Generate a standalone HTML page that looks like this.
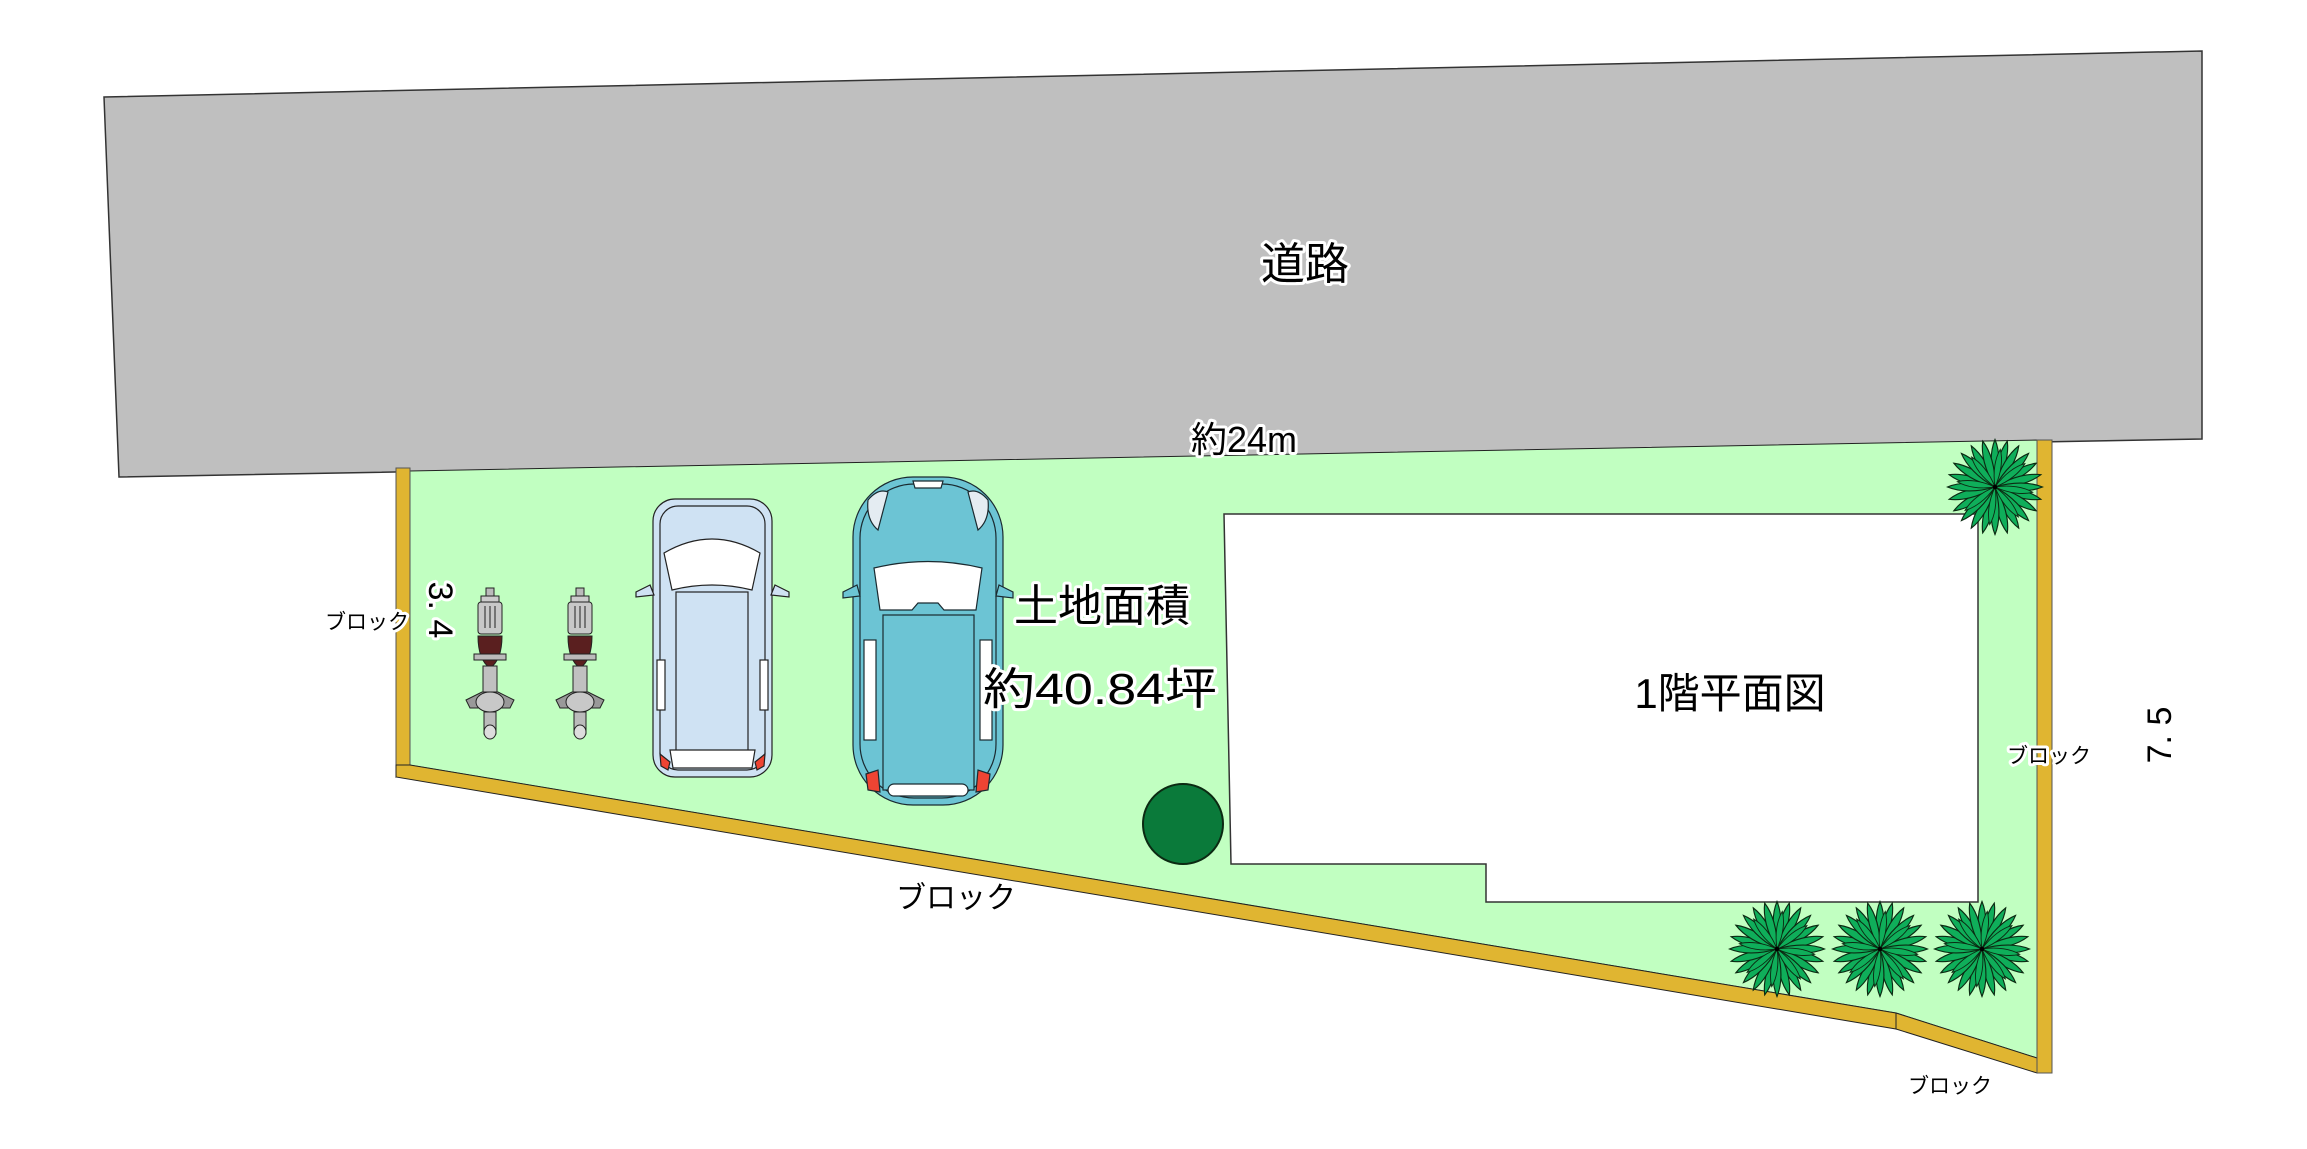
<!DOCTYPE html>
<html><head><meta charset="utf-8"><style>
html,body{margin:0;padding:0;background:#fff;}
svg{display:block;}
text{font-family:"Liberation Sans","Noto Sans CJK JP",sans-serif;}
.o{paint-order:stroke;stroke:#fff;stroke-width:6px;stroke-linejoin:round;}
</style></head><body>
<svg width="2307" height="1149" viewBox="0 0 2307 1149" xmlns="http://www.w3.org/2000/svg">
<defs>
<g id="leafset">
  <path d="M0,0 C-6,-20 -5,-38 0,-50 C5,-38 6,-20 0,0Z"/>
</g>
<g id="plant" fill="#0fae5a" stroke="#0b2a12" stroke-width="1.2">
  <use href="#leafset" transform="rotate(0)"/><use href="#leafset" transform="rotate(15)"/>
  <use href="#leafset" transform="rotate(30)"/><use href="#leafset" transform="rotate(45)"/>
  <use href="#leafset" transform="rotate(60)"/><use href="#leafset" transform="rotate(75)"/>
  <use href="#leafset" transform="rotate(90)"/><use href="#leafset" transform="rotate(105)"/>
  <use href="#leafset" transform="rotate(120)"/><use href="#leafset" transform="rotate(135)"/>
  <use href="#leafset" transform="rotate(150)"/><use href="#leafset" transform="rotate(165)"/>
  <use href="#leafset" transform="rotate(180)"/><use href="#leafset" transform="rotate(195)"/>
  <use href="#leafset" transform="rotate(210)"/><use href="#leafset" transform="rotate(225)"/>
  <use href="#leafset" transform="rotate(240)"/><use href="#leafset" transform="rotate(255)"/>
  <use href="#leafset" transform="rotate(270)"/><use href="#leafset" transform="rotate(285)"/>
  <use href="#leafset" transform="rotate(300)"/><use href="#leafset" transform="rotate(315)"/>
  <use href="#leafset" transform="rotate(330)"/><use href="#leafset" transform="rotate(345)"/>
  <use href="#leafset" transform="rotate(8) scale(0.8)"/><use href="#leafset" transform="rotate(52) scale(0.8)"/>
  <use href="#leafset" transform="rotate(98) scale(0.8)"/><use href="#leafset" transform="rotate(142) scale(0.8)"/>
  <use href="#leafset" transform="rotate(188) scale(0.8)"/><use href="#leafset" transform="rotate(232) scale(0.8)"/>
  <use href="#leafset" transform="rotate(278) scale(0.8)"/><use href="#leafset" transform="rotate(322) scale(0.8)"/>
  <circle r="2.5" fill="#000" stroke="none"/>
</g>
<g id="moto" stroke="#222" stroke-width="1">
  <rect x="-4" y="0" width="8" height="14" fill="#bbb"/>
  <rect x="-9" y="8" width="18" height="6" fill="#ccc"/>
  <rect x="-12" y="14" width="24" height="32" rx="3" fill="#c8c8c8"/>
  <line x1="-5" y1="18" x2="-5" y2="40"/><line x1="0" y1="18" x2="0" y2="40"/><line x1="5" y1="18" x2="5" y2="40"/>
  <path d="M-12,48 Q-12,72 0,80 Q12,72 12,48 Z" fill="#5a1f1f"/>
  <rect x="-7" y="78" width="14" height="30" fill="#c0c0c0"/>
  <rect x="-16" y="66" width="32" height="6" fill="#bbb"/>
  <path d="M-24,112 L-8,104 L8,104 L24,112 L20,120 L-20,120Z" fill="#999"/>
  <ellipse cx="0" cy="114" rx="14" ry="10" fill="#c8c8c8"/>
  <rect x="-6" y="124" width="12" height="22" fill="#bbb"/>
  <ellipse cx="0" cy="144" rx="6" ry="7" fill="#ddd"/>
</g>
</defs>

<!-- road -->
<polygon points="104,97 2202,51 2202,439 119,477" fill="#bfbfbf" stroke="#333" stroke-width="1.5"/>

<!-- green lot -->
<polygon points="409,471 2037,440 2037,1058 1896,1013 409,765" fill="#c1ffc1" stroke="#222" stroke-width="1"/>

<!-- walls -->
<polygon points="396,468 410,468 410,765 396,777" fill="#e0b531" stroke="#555" stroke-width="1"/>
<polygon points="396,765 410,765 1896,1013 1896,1029 396,777" fill="#e0b531" stroke="#222" stroke-width="1"/>
<polygon points="1896,1013 2037,1058 2037,1073 1896,1029" fill="#e0b531" stroke="#222" stroke-width="1"/>
<rect x="2037" y="440" width="15" height="633" fill="#e0b531" stroke="#555" stroke-width="1"/>

<!-- house -->
<polygon points="1224,514 1978,514 1978,902 1486,902 1486,864 1231,864" fill="#fff" stroke="#333" stroke-width="1.5"/>

<!-- plants -->
<use href="#plant" transform="translate(1995,487) scale(0.95)"/>
<use href="#plant" transform="translate(1777,949) scale(0.95)"/>
<use href="#plant" transform="translate(1880,949) scale(0.95)"/>
<use href="#plant" transform="translate(1982,949) scale(0.95)"/>

<!-- bush -->
<circle cx="1183" cy="824" r="40" fill="#0a7a3a" stroke="#0b2a12" stroke-width="2"/>

<!-- motorcycles -->
<use href="#moto" transform="translate(490,588)"/>
<use href="#moto" transform="translate(580,588)"/>

<!-- van -->
<g stroke="#222" stroke-width="1.2">
  <rect x="653" y="499" width="119" height="278" rx="22" fill="#cfe2f3"/>
  <rect x="660" y="506" width="105" height="264" rx="18" fill="#cfe2f3"/>
  <path d="M664,553 Q712,525 760,553 L752,590 Q712,580 672,590Z" fill="#fff"/>
  <path d="M650,585 L636,592 L636,597 L654,595Z" fill="#cfe2f3"/>
  <path d="M775,585 L789,592 L789,597 L771,595Z" fill="#cfe2f3"/>
  <rect x="676" y="592" width="72" height="170" fill="#cfe2f3"/>
  <path d="M670,750 L755,750 L752,768 L673,768Z" fill="#fff"/>
  <path d="M660,754 L670,762 L668,770 L661,766Z" fill="#ee4433"/>
  <path d="M765,754 L755,762 L757,770 L764,766Z" fill="#ee4433"/>
  <rect x="657" y="660" width="8" height="50" fill="#fff"/>
  <rect x="760" y="660" width="8" height="50" fill="#fff"/>
</g>

<!-- teal car -->
<g stroke="#1a2a30" stroke-width="1.2">
  <rect x="853" y="477" width="150" height="328" rx="60" fill="#6cc4d4"/>
  <rect x="860" y="484" width="136" height="314" rx="54" fill="#6cc4d4"/>
  <path d="M868,500 Q878,488 888,492 L878,530 Q866,520 868,500Z" fill="#e4ecf2"/>
  <path d="M988,500 Q978,488 968,492 L978,530 Q990,520 988,500Z" fill="#e4ecf2"/>
  <path d="M913,481 L943,481 L941,488 L915,488Z" fill="#fff"/>
  <path d="M874,568 Q928,555 982,568 L976,610 L944,610 L938,603 L918,603 L912,610 L880,610Z" fill="#fff"/>
  <path d="M857,585 L843,592 L843,598 L860,596Z" fill="#6cc4d4"/>
  <path d="M999,585 L1013,592 L1013,598 L996,596Z" fill="#6cc4d4"/>
  <rect x="883" y="615" width="91" height="175" fill="#6cc4d4"/>
  <path d="M866,774 L878,770 L880,792 L868,790Z" fill="#ee4433"/>
  <path d="M990,774 L978,770 L976,792 L988,790Z" fill="#ee4433"/>
  <rect x="888" y="784" width="80" height="12" rx="6" fill="#fff"/>
  <rect x="864" y="640" width="12" height="100" fill="#fff"/>
  <rect x="980" y="640" width="12" height="100" fill="#fff"/>
</g>

<!-- labels -->
<text x="1305" y="279" font-size="44" text-anchor="middle" class="o" fill="#000">道路</text>
<text x="1244" y="452" font-size="36" text-anchor="middle" class="o" fill="#000" textLength="106" lengthAdjust="spacingAndGlyphs">約24m</text>
<text x="1102" y="621" font-size="44" text-anchor="middle" class="o" fill="#000">土地面積</text>
<text x="1100" y="704" font-size="44" text-anchor="middle" class="o" fill="#000" textLength="234" lengthAdjust="spacingAndGlyphs">約40.84坪</text>
<text x="1730" y="708" font-size="42" text-anchor="middle" fill="#000">1階平面図</text>
<text x="367" y="629" font-size="21" text-anchor="middle" class="o" fill="#000">ブロック</text>
<text x="956" y="908" font-size="30" text-anchor="middle" fill="#000">ブロック</text>
<text x="2049" y="763" font-size="21" text-anchor="middle" class="o" fill="#000">ブロック</text>
<text x="1950" y="1093" font-size="21" text-anchor="middle" fill="#000">ブロック</text>
<text transform="translate(440,610) rotate(90)" font-size="34" text-anchor="middle" dominant-baseline="central" class="o" fill="#000">3. 4</text>
<text transform="translate(2160,735) rotate(-90)" font-size="34" text-anchor="middle" dominant-baseline="central" fill="#000">7. 5</text>
</svg>
</body></html>
